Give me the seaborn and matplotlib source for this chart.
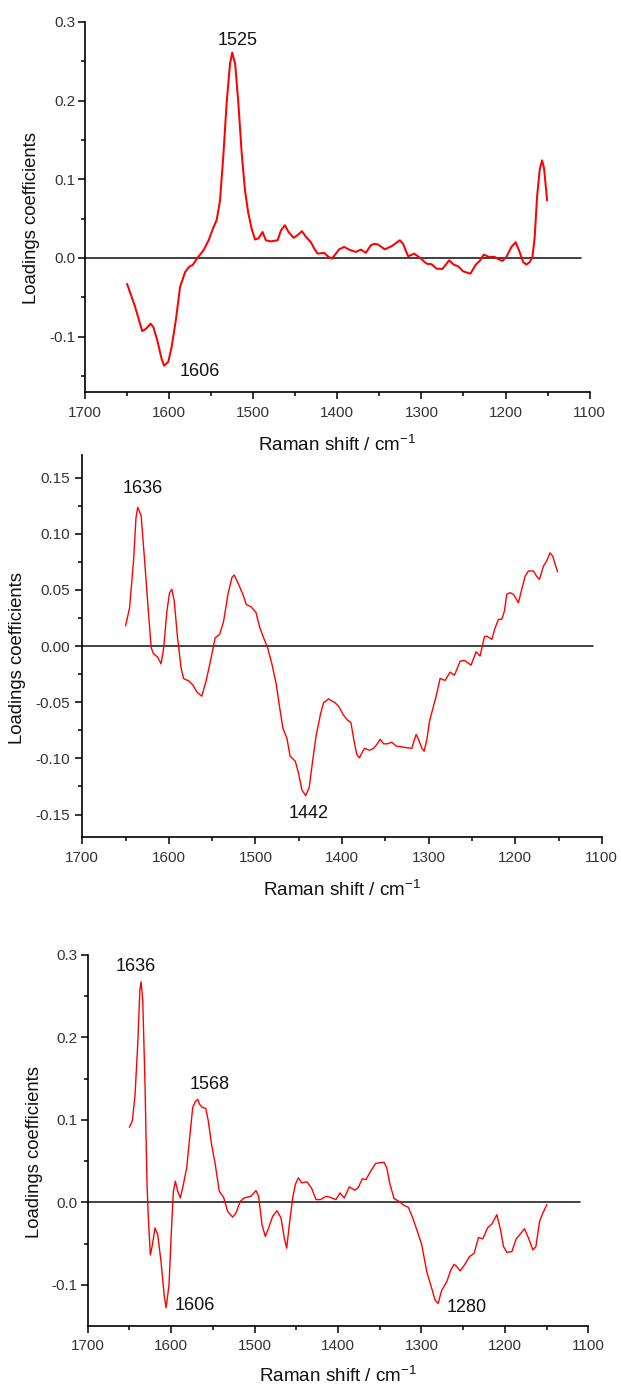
import numpy as np
import pandas as pd
import matplotlib
matplotlib.use("Agg")
import matplotlib.pyplot as plt
import seaborn as sns

# ---------------- loadings, panel A ----------------
wavenumber_a = [
    1650, 1640.5, 1632, 1627.5, 1622, 1618.7, 1614, 1609, 1606, 1601,
    1597, 1592, 1587, 1581, 1576, 1572, 1567, 1559, 1553, 1548,
    1543.5, 1539.5, 1535.6, 1531.6, 1527.6, 1525, 1521.5, 1517.7, 1513.7, 1509.8,
    1505.8, 1501.8, 1497.9, 1494, 1488.9, 1485, 1479, 1471, 1467, 1462.3,
    1458, 1452, 1447.3, 1442, 1437.4, 1431.4, 1427.5, 1423.5, 1415.6, 1410.4,
    1406.5, 1401.7, 1397.8, 1391.8, 1385.9, 1378, 1372, 1366, 1360.2, 1356,
    1351.5, 1343.6, 1335.6, 1325.7, 1321.8, 1315.8, 1308.7, 1302, 1294, 1288,
    1282, 1275, 1267, 1261.6, 1256.4, 1250.5, 1241.8, 1235.4, 1230.7, 1226,
    1219.6, 1212.9, 1208.9, 1203.7, 1199, 1193, 1188, 1184, 1179.2, 1175.2,
    1171.2, 1168, 1165.3, 1162.5, 1159.4, 1156.6, 1154.2, 1150.6,
]
loading_a = [
    -0.033, -0.062, -0.093, -0.090, -0.0835, -0.088, -0.105, -0.128, -0.137, -0.132,
    -0.113, -0.079, -0.037, -0.018, -0.011, -0.009, -0.001, 0.010, 0.0225, 0.037,
    0.048, 0.073, 0.129, 0.197, 0.247, 0.261, 0.247, 0.197, 0.133, 0.086,
    0.0565, 0.037, 0.0234, 0.0247, 0.033, 0.0225, 0.021, 0.0225, 0.035, 0.0416,
    0.033, 0.0255, 0.029, 0.034, 0.027, 0.020, 0.012, 0.0055, 0.0064, 0.0013,
    -0.0008, 0.0055, 0.011, 0.014, 0.0106, 0.0076, 0.0106, 0.0066, 0.0161, 0.018,
    0.017, 0.011, 0.0148, 0.0225, 0.018, 0.002, 0.0055, 0.0004, -0.0072, -0.008,
    -0.0136, -0.014, -0.003, -0.0085, -0.0106, -0.017, -0.020, -0.0085, -0.0038, 0.0042,
    0.0013, 0.0013, -0.0013, -0.0038, 0.0013, 0.014, 0.020, 0.0098, -0.0051, -0.0085,
    -0.0051, 0.0013, 0.0267, 0.078, 0.112, 0.124, 0.114, 0.073,
]

# ---------------- loadings, panel B ----------------
wavenumber_b = [
    1650, 1645.4, 1640.8, 1638, 1636, 1632, 1628, 1624, 1620.4, 1617.7,
    1613, 1609, 1606, 1602.3, 1599.2, 1596.5, 1593.8, 1590, 1586, 1583,
    1577, 1572, 1567.6, 1562, 1557, 1552, 1546.5, 1541.4, 1536.8, 1531.8,
    1527.2, 1524.5, 1519.5, 1514.5, 1510.6, 1505.2, 1499.5, 1495.2, 1490.6, 1486,
    1481, 1476, 1472, 1468.3, 1463.7, 1460, 1454, 1450.3, 1446.4, 1442,
    1438, 1434, 1430, 1425, 1421.4, 1415.6, 1408, 1404, 1398.3, 1393.7,
    1389.8, 1386, 1383, 1380, 1377, 1374, 1368.3, 1363.6, 1359.8, 1356,
    1352, 1347.5, 1342.5, 1337.5, 1331, 1324.4, 1319.4, 1317.5, 1314.4, 1311.7,
    1307.8, 1305.2, 1302, 1299, 1294.4, 1291.3, 1286.7, 1281, 1275.2, 1270.2,
    1263.6, 1258.6, 1251, 1245.2, 1240.6, 1235.6, 1233, 1227, 1223.3, 1219.4,
    1215.6, 1212.5, 1209.8, 1206, 1202, 1196.3, 1192.5, 1188.6, 1184.8, 1179,
    1175.2, 1172, 1167.5, 1163.6, 1159.8, 1156.7, 1154, 1151,
]
loading_b = [
    0.018, 0.034, 0.076, 0.114, 0.1235, 0.116, 0.076, 0.034, -0.0015, -0.0068,
    -0.0098, -0.0158, -0.0015, 0.031, 0.0475, 0.0505, 0.040, 0.0074, -0.019, -0.029,
    -0.031, -0.035, -0.041, -0.0446, -0.031, -0.0134, 0.0074, 0.0104, 0.022, 0.046,
    0.061, 0.0633, 0.055, 0.046, 0.037, 0.035, 0.030, 0.017, 0.0074, -0.0015,
    -0.016, -0.034, -0.055, -0.073, -0.082, -0.098, -0.1025, -0.113, -0.128, -0.1331,
    -0.126, -0.1025, -0.080, -0.061, -0.0505, -0.047, -0.0505, -0.0535, -0.0615, -0.066,
    -0.068, -0.085, -0.0965, -0.0995, -0.095, -0.091, -0.0927, -0.091, -0.0876, -0.083,
    -0.087, -0.087, -0.0856, -0.089, -0.0897, -0.0906, -0.091, -0.086, -0.0787, -0.083,
    -0.091, -0.0936, -0.083, -0.067, -0.0535, -0.0446, -0.0288, -0.0306, -0.0232, -0.026,
    -0.0134, -0.0128, -0.017, -0.0051, -0.0089, 0.0083, 0.0089, 0.006, 0.016, 0.0238,
    0.0238, 0.031, 0.046, 0.0475, 0.046, 0.0386, 0.0505, 0.062, 0.0668, 0.0668,
    0.062, 0.0594, 0.071, 0.0758, 0.083, 0.080, 0.073, 0.066,
]

# ---------------- loadings, panel C ----------------
wavenumber_c = [
    1650, 1646.4, 1643.2, 1640, 1637.5, 1636, 1634, 1631.3, 1628.9, 1627.3,
    1624.9, 1622.5, 1619.3, 1616.1, 1612.1, 1608.3, 1606, 1602.5, 1600.1, 1597.3,
    1594.9, 1592.1, 1588.9, 1585.3, 1581.3, 1577.3, 1574.1, 1571, 1568, 1566,
    1562.5, 1558.5, 1555.5, 1551.5, 1547.1, 1542.3, 1537.1, 1532.3, 1526.3, 1522.3,
    1517.1, 1512.3, 1504.3, 1498.3, 1495.1, 1491.1, 1487.1, 1483.1, 1478.3, 1473.1,
    1468.3, 1464.3, 1461.5, 1458.3, 1454.3, 1451.1, 1447.5, 1443.5, 1437.1, 1431.5,
    1426.3, 1421.1, 1414.3, 1409.6, 1402.4, 1397.6, 1392.4, 1386.4, 1379.6, 1375.6,
    1370.8, 1366.4, 1360.8, 1354.8, 1349.6, 1344.8, 1341.6, 1337.6, 1332.8, 1326.8,
    1320.8, 1315.6, 1310.4, 1304.8, 1299.6, 1293.6, 1287.6, 1283.6, 1280, 1275.6,
    1269.6, 1264.8, 1260.8, 1257.6, 1253.6, 1248.4, 1242.4, 1236.8, 1231.6, 1226.4,
    1220.8, 1215.6, 1209.6, 1205.6, 1201.6, 1197.6, 1191.6, 1186.4, 1181.6, 1176.4,
    1171.6, 1166.4, 1162.8, 1158.4, 1154.4, 1149.6,
]
loading_c = [
    0.091, 0.099, 0.131, 0.192, 0.257, 0.2675, 0.245, 0.1435, 0.022, -0.019,
    -0.064, -0.052, -0.031, -0.039, -0.072, -0.113, -0.128, -0.100, -0.0435, 0.0134,
    0.0256, 0.0134, 0.0053, 0.0216, 0.042, 0.083, 0.115, 0.122, 0.125, 0.119,
    0.115, 0.114, 0.099, 0.070, 0.046, 0.0134, 0.0061, -0.011, -0.018, -0.013,
    0.0012, 0.0053, 0.0073, 0.0142, 0.0073, -0.027, -0.0415, -0.031, -0.017, -0.0102,
    -0.019, -0.0435, -0.0557, -0.027, 0.0053, 0.0216, 0.0297, 0.0236, 0.0248, 0.0167,
    0.0033, 0.0033, 0.0073, 0.0061, 0.0033, 0.0114, 0.0053, 0.0187, 0.0146, 0.0183,
    0.0285, 0.0276, 0.0378, 0.0472, 0.048, 0.0484, 0.0419, 0.0216, 0.0045, 0.0012,
    -0.0037, -0.0061, -0.0191, -0.0354, -0.0516, -0.0841, -0.1045, -0.1187, -0.1228, -0.1065,
    -0.0963, -0.0821, -0.0752, -0.078, -0.0833, -0.076, -0.0659, -0.0618, -0.0427, -0.0443,
    -0.0313, -0.0264, -0.0150, -0.0313, -0.0537, -0.0606, -0.0598, -0.0443, -0.0386, -0.0321,
    -0.0435, -0.0577, -0.0537, -0.0232, -0.013, -0.0028,
]

# ---------------- axis ticks and labels ----------------
x_major = [1700, 1600, 1500, 1400, 1300, 1200, 1100]
x_major_labels = ["1700", "1600", "1500", "1400", "1300", "1200", "1100"]
x_minor = [1650, 1550, 1450, 1350, 1250, 1150]

y_major_a = [-0.1, 0.0, 0.1, 0.2, 0.3]
y_labels_a = ["-0.1", "0.0", "0.1", "0.2", "0.3"]
y_minor_a = [-0.15, -0.05, 0.05, 0.15, 0.25]

y_major_b = [-0.15, -0.10, -0.05, 0.0, 0.05, 0.10, 0.15]
y_labels_b = ["-0.15", "-0.10", "-0.05", "0.00", "0.05", "0.10", "0.15"]
y_minor_b = [-0.125, -0.075, -0.025, 0.025, 0.075, 0.125]

y_major_c = [-0.1, 0.0, 0.1, 0.2, 0.3]
y_labels_c = ["-0.1", "0.0", "0.1", "0.2", "0.3"]
y_minor_c = [-0.05, 0.05, 0.15, 0.25]

# marked bands (wavenumbers written next to the curve)
bands_a = [1525, 1606]
bands_b = [1636, 1442]
bands_c = [1636, 1568, 1606, 1280]

x_title = "Raman shift / cm$^{-1}$"
y_title = "Loadings coefficients"

# ---------------- style ----------------
sns.set_theme(style="ticks")
plt.rcParams["font.family"] = ["Liberation Sans", "DejaVu Sans"]
plt.rcParams["mathtext.fontset"] = "custom"
plt.rcParams["mathtext.rm"] = "Liberation Sans"
plt.rcParams["mathtext.it"] = "Liberation Sans:italic"
plt.rcParams["mathtext.bf"] = "Liberation Sans:bold"

fig = plt.figure(figsize=(6.21, 13.87), dpi=100)

# each panel: axes rect, data, y settings, line style, label placement, text offsets (points)
panels = [
    dict(rect=[0.1369, 0.7176, 0.8126, 0.2666],
         x=wavenumber_a, y=loading_a, ylim=(-0.17, 0.30),
         yt=y_major_a, ytl=y_labels_a, ym=y_minor_a,
         lw=1.45, zero_color="#303030", zero_lw=1.3,
         ylab_x=-0.1056, xlab_y=-0.1596, xpad=5.0, ypad=2.0,
         bands=bands_a, offsets=[(3.8, 5.3), (25.8, -7.3)]),
    dict(rect=[0.1325, 0.3965, 0.8366, 0.2754],
         x=wavenumber_b, y=loading_b, ylim=(-0.17, 0.17),
         yt=y_major_b, ytl=y_labels_b, ym=y_minor_b,
         lw=1.0, zero_color="#111111", zero_lw=1.1,
         ylab_x=-0.1249, xlab_y=-0.1552, xpad=5.0, ypad=3.6,
         bands=bands_b, offsets=[(3.3, 10.4), (2.0, -16.4)]),
    dict(rect=[0.1412, 0.0440, 0.8061, 0.2675],
         x=wavenumber_c, y=loading_c, ylim=(-0.15, 0.30),
         yt=y_major_c, ytl=y_labels_c, ym=y_minor_c,
         lw=1.0, zero_color="#111111", zero_lw=1.1,
         ylab_x=-0.1065, xlab_y=-0.150, xpad=4.2, ypad=2.4,
         bands=bands_c, offsets=[(-3.5, 7.6), (8.8, 7.4), (20.8, -1.3), (20.8, -6.3)]),
]

for p in panels:
    ax = fig.add_axes(p["rect"])
    df = pd.DataFrame({"wavenumber": p["x"], "loading": p["y"]})

    # zero reference line, stopping just short of 1100 cm-1
    ax.axhline(0.0, xmin=0.0, xmax=0.983, color=p["zero_color"], lw=p["zero_lw"], zorder=1)

    sns.lineplot(data=df, x="wavenumber", y="loading", ax=ax, sort=False,
                 estimator=None, color="#ff0000", linewidth=p["lw"], zorder=3,
                 solid_joinstyle="round", solid_capstyle="round")

    ax.set_xlim(1700, 1100)
    ax.set_ylim(*p["ylim"])
    ax.set_xticks(x_major)
    ax.set_xticklabels(x_major_labels)
    ax.set_xticks(x_minor, minor=True)
    ax.set_yticks(p["yt"])
    ax.set_yticklabels(p["ytl"])
    ax.set_yticks(p["ym"], minor=True)

    sns.despine(ax=ax)
    for side in ("left", "bottom"):
        ax.spines[side].set_linewidth(1.2)
        ax.spines[side].set_color("black")

    ax.tick_params(which="both", direction="out", width=1.1, color="black")
    ax.tick_params(which="major", length=5.2)
    ax.tick_params(which="minor", length=2.9)
    ax.tick_params(axis="x", which="major", pad=p["xpad"], labelsize=11, labelcolor="#333333")
    ax.tick_params(axis="y", which="major", pad=p["ypad"], labelsize=11, labelcolor="#333333")

    ax.set_xlabel(x_title, fontsize=13.6, color="#111111")
    ax.xaxis.set_label_coords(0.5, p["xlab_y"])
    ax.xaxis.label.set_verticalalignment("baseline")

    ax.set_ylabel(y_title, fontsize=13.3, color="#111111")
    ax.yaxis.set_label_coords(p["ylab_x"], 0.47)
    ax.yaxis.label.set_verticalalignment("center")

    # band labels placed next to the extremum they mark
    xs = np.asarray(p["x"])[::-1]
    ys = np.asarray(p["y"])[::-1]
    for band, (dx, dy) in zip(p["bands"], p["offsets"]):
        yv = float(np.interp(band, xs, ys))
        ax.annotate(str(band), xy=(band, yv), xytext=(dx, dy),
                    textcoords="offset points", ha="center", va="baseline",
                    fontsize=13, color="#111111")

fig.savefig("out.png", dpi=100)
